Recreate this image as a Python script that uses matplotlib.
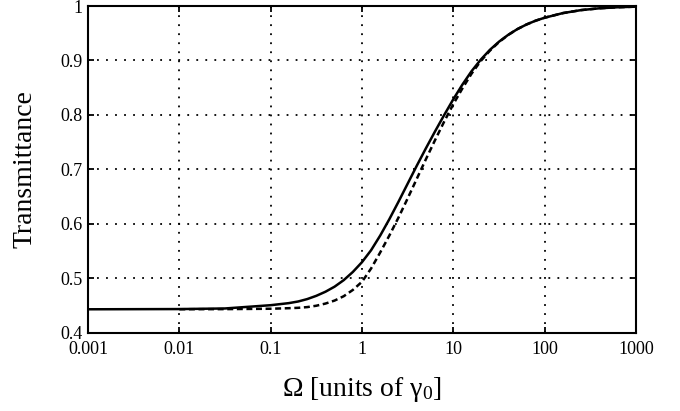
import matplotlib
matplotlib.use("Agg")
import matplotlib.pyplot as plt

# Omega sample positions
omega = [0.001, 0.01, 0.0316, 0.1, 0.158, 0.2, 0.251, 0.316, 0.398, 0.501, 0.631,
         0.794, 1.0, 1.259, 1.585, 1.995, 2.512, 3.162, 3.981, 5.012, 6.31, 7.943,
         10, 12.59, 15.85, 19.95, 25.12, 31.62, 39.81, 50.12, 63.1, 79.43, 100,
         158.5, 251.2, 398.1, 631, 1000]

# Solid curve
trans_solid = [0.4435, 0.4439, 0.4450, 0.4510, 0.4548, 0.4578, 0.4622, 0.4682, 0.4757,
               0.4850, 0.4970, 0.5120, 0.5300, 0.5520, 0.5790, 0.6090, 0.6410, 0.6740,
               0.7070, 0.7390, 0.7700, 0.8000, 0.8290, 0.8560, 0.8805, 0.9015, 0.9195,
               0.9345, 0.9470, 0.9575, 0.9660, 0.9730, 0.9785, 0.9870, 0.9925, 0.9958,
               0.9977, 0.9988]

# Dashed curve (starts at 0.01)
omega_dashed = omega[1:]
trans_dashed = [0.4436, 0.4438, 0.4445, 0.4455, 0.4462, 0.4475, 0.4500, 0.4540, 0.4595,
                0.4675, 0.4790, 0.4940, 0.5185, 0.5480, 0.5790, 0.6120, 0.6470, 0.6830,
                0.7190, 0.7540, 0.7880, 0.8200, 0.8490, 0.8760, 0.8990, 0.9180, 0.9338,
                0.9468, 0.9575, 0.9660, 0.9730, 0.9785, 0.9870, 0.9925, 0.9958, 0.9977,
                0.9988]

x_ticks = [0.001, 0.01, 0.1, 1, 10, 100, 1000]
x_tick_labels = ["0.001", "0.01", "0.1", "1", "10", "100", "1000"]
y_ticks = [0.4, 0.5, 0.6, 0.7, 0.8, 0.9, 1.0]
y_tick_labels = ["0.4", "0.5", "0.6", "0.7", "0.8", "0.9", "1"]

plt.rcParams["font.family"] = ["Liberation Serif", "DejaVu Serif"]
plt.rcParams["mathtext.fontset"] = "custom"
plt.rcParams["mathtext.rm"] = "Liberation Serif"
plt.rcParams["mathtext.it"] = "Liberation Serif:italic"
plt.rcParams["lines.scale_dashes"] = False

fig = plt.figure(figsize=(6.8, 4.11), dpi=100)
ax = fig.add_axes([0.1294, 0.1898, 0.9353 - 0.1294, 0.9854 - 0.1898])

ax.plot(omega, trans_solid, color="black", lw=1.8, solid_joinstyle="round")
ax.plot(omega_dashed, trans_dashed, color="black", lw=1.8, dashes=(4.3, 2.6))

ax.set_xscale("log")
ax.set_xlim(0.001, 1000)
ax.set_ylim(0.4, 1.0)
ax.set_xticks(x_ticks)
ax.set_xticklabels(x_tick_labels)
ax.set_yticks(y_ticks)
ax.set_yticklabels(y_tick_labels)
ax.minorticks_off()

ax.grid(True, color="black", lw=1.3, linestyle=(0, (1.3, 5.2)))
ax.tick_params(axis="both", which="major", direction="in", length=4, width=1.3,
               top=True, right=True, labelsize=13, color="black")
ax.tick_params(axis="x", pad=6)
ax.tick_params(axis="y", pad=4)
for s in ax.spines.values():
    s.set_linewidth(1.5)

ax.set_xlabel(r"$\Omega$ [units of $\mathrm{\gamma}_0$]", fontsize=20, labelpad=12)
ax.set_ylabel("Transmittance", fontsize=20, labelpad=16)

fig.savefig("out.png", dpi=100)
